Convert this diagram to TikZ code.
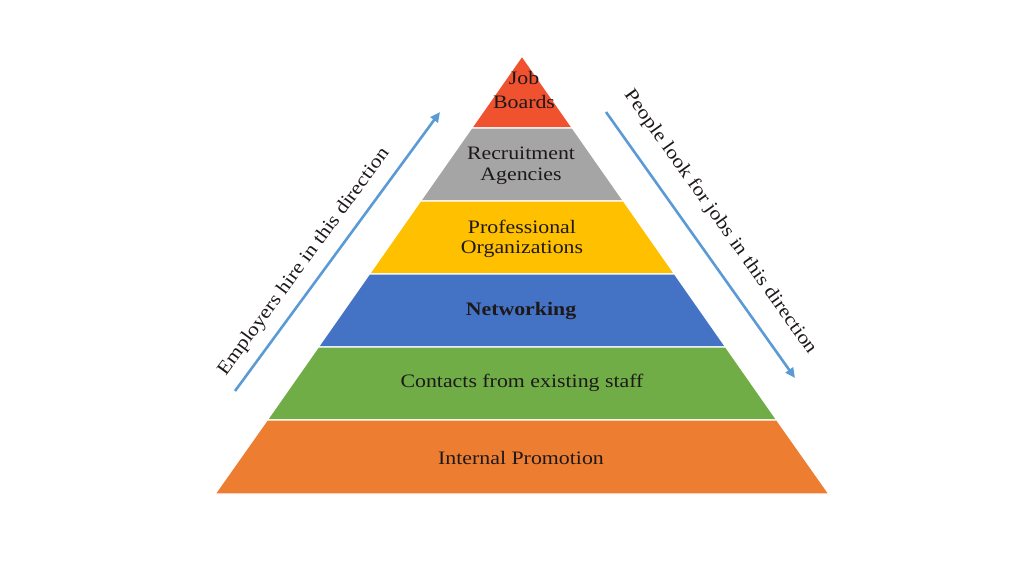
\documentclass[tikz,border=0pt]{standalone}
\usepackage{fontspec}
\setmainfont{Liberation Serif}[FakeStretch=1.15]
\usetikzlibrary{arrows.meta}
\definecolor{cRed}{RGB}{240,82,48}
\definecolor{cGray}{RGB}{165,165,165}
\definecolor{cYellow}{RGB}{255,192,0}
\definecolor{cBlue}{RGB}{68,114,196}
\definecolor{cGreen}{RGB}{112,173,71}
\definecolor{cOrange}{RGB}{237,125,49}
\definecolor{cArrow}{RGB}{91,155,213}
\definecolor{cText}{RGB}{30,25,25}
\tikzset{
  layer/.style={draw=white, line width=1.2pt},
  lbl/.style={text=cText, font=\fontsize{19}{20.5}\selectfont, align=center, inner sep=0pt},
  side/.style={text=cText, font=\fontsize{19}{22}\selectfont, inner sep=0pt},
  dirarrow/.style={draw=cArrow, line width=2.6pt, -{Triangle[length=10pt,width=9pt]}}
}
\begin{document}
\begin{tikzpicture}[x=1pt,y=-1pt]
\useasboundingbox (0,0) rectangle (1024,576);
\fill[cRed,layer] (522,56) -- (572.4,128) -- (471.6,128) -- cycle;
\fill[cGray,layer] (471.6,128) -- (572.4,128) -- (623.5,201) -- (420.5,201) -- cycle;
\fill[cYellow,layer] (420.5,201) -- (623.5,201) -- (674.6,274) -- (369.4,274) -- cycle;
\fill[cBlue,layer] (369.4,274) -- (674.6,274) -- (725.7,347) -- (318.3,347) -- cycle;
\fill[cGreen,layer] (318.3,347) -- (725.7,347) -- (776.8,420) -- (267.2,420) -- cycle;
\fill[cOrange,layer] (267.2,420) -- (776.8,420) -- (829,494) -- (215,494) -- cycle;
% labels
\node[lbl] (job) at (524,90) {Job\\[4pt]Boards};
\node[lbl] (rec) at (521,166) {Recruitment\\Agencies};
\node[lbl] (pro) at (522,239) {Professional\\Organizations};
\node[lbl, font=\fontsize{19}{22}\selectfont\bfseries] (net) at (521,311) {Networking};
\node[lbl] (con) at (522,383) {Contacts from existing staff};
\node[lbl] (int) at (521,458) {Internal Promotion};
% arrows
\coordinate (l1) at (235,391);
\coordinate (l2) at (440,112);
\coordinate (r1) at (606,112);
\coordinate (r2) at (795,378);
\draw[dirarrow] (l1) -- (l2);
\draw[dirarrow] (r1) -- (r2);
\node[side, rotate=53.7] (emp) at (304,262) {Employers hire in this direction};
\node[side, rotate=-54.6] (ppl) at (720,222) {People look for jobs in this direction};
\end{tikzpicture}
\end{document}
